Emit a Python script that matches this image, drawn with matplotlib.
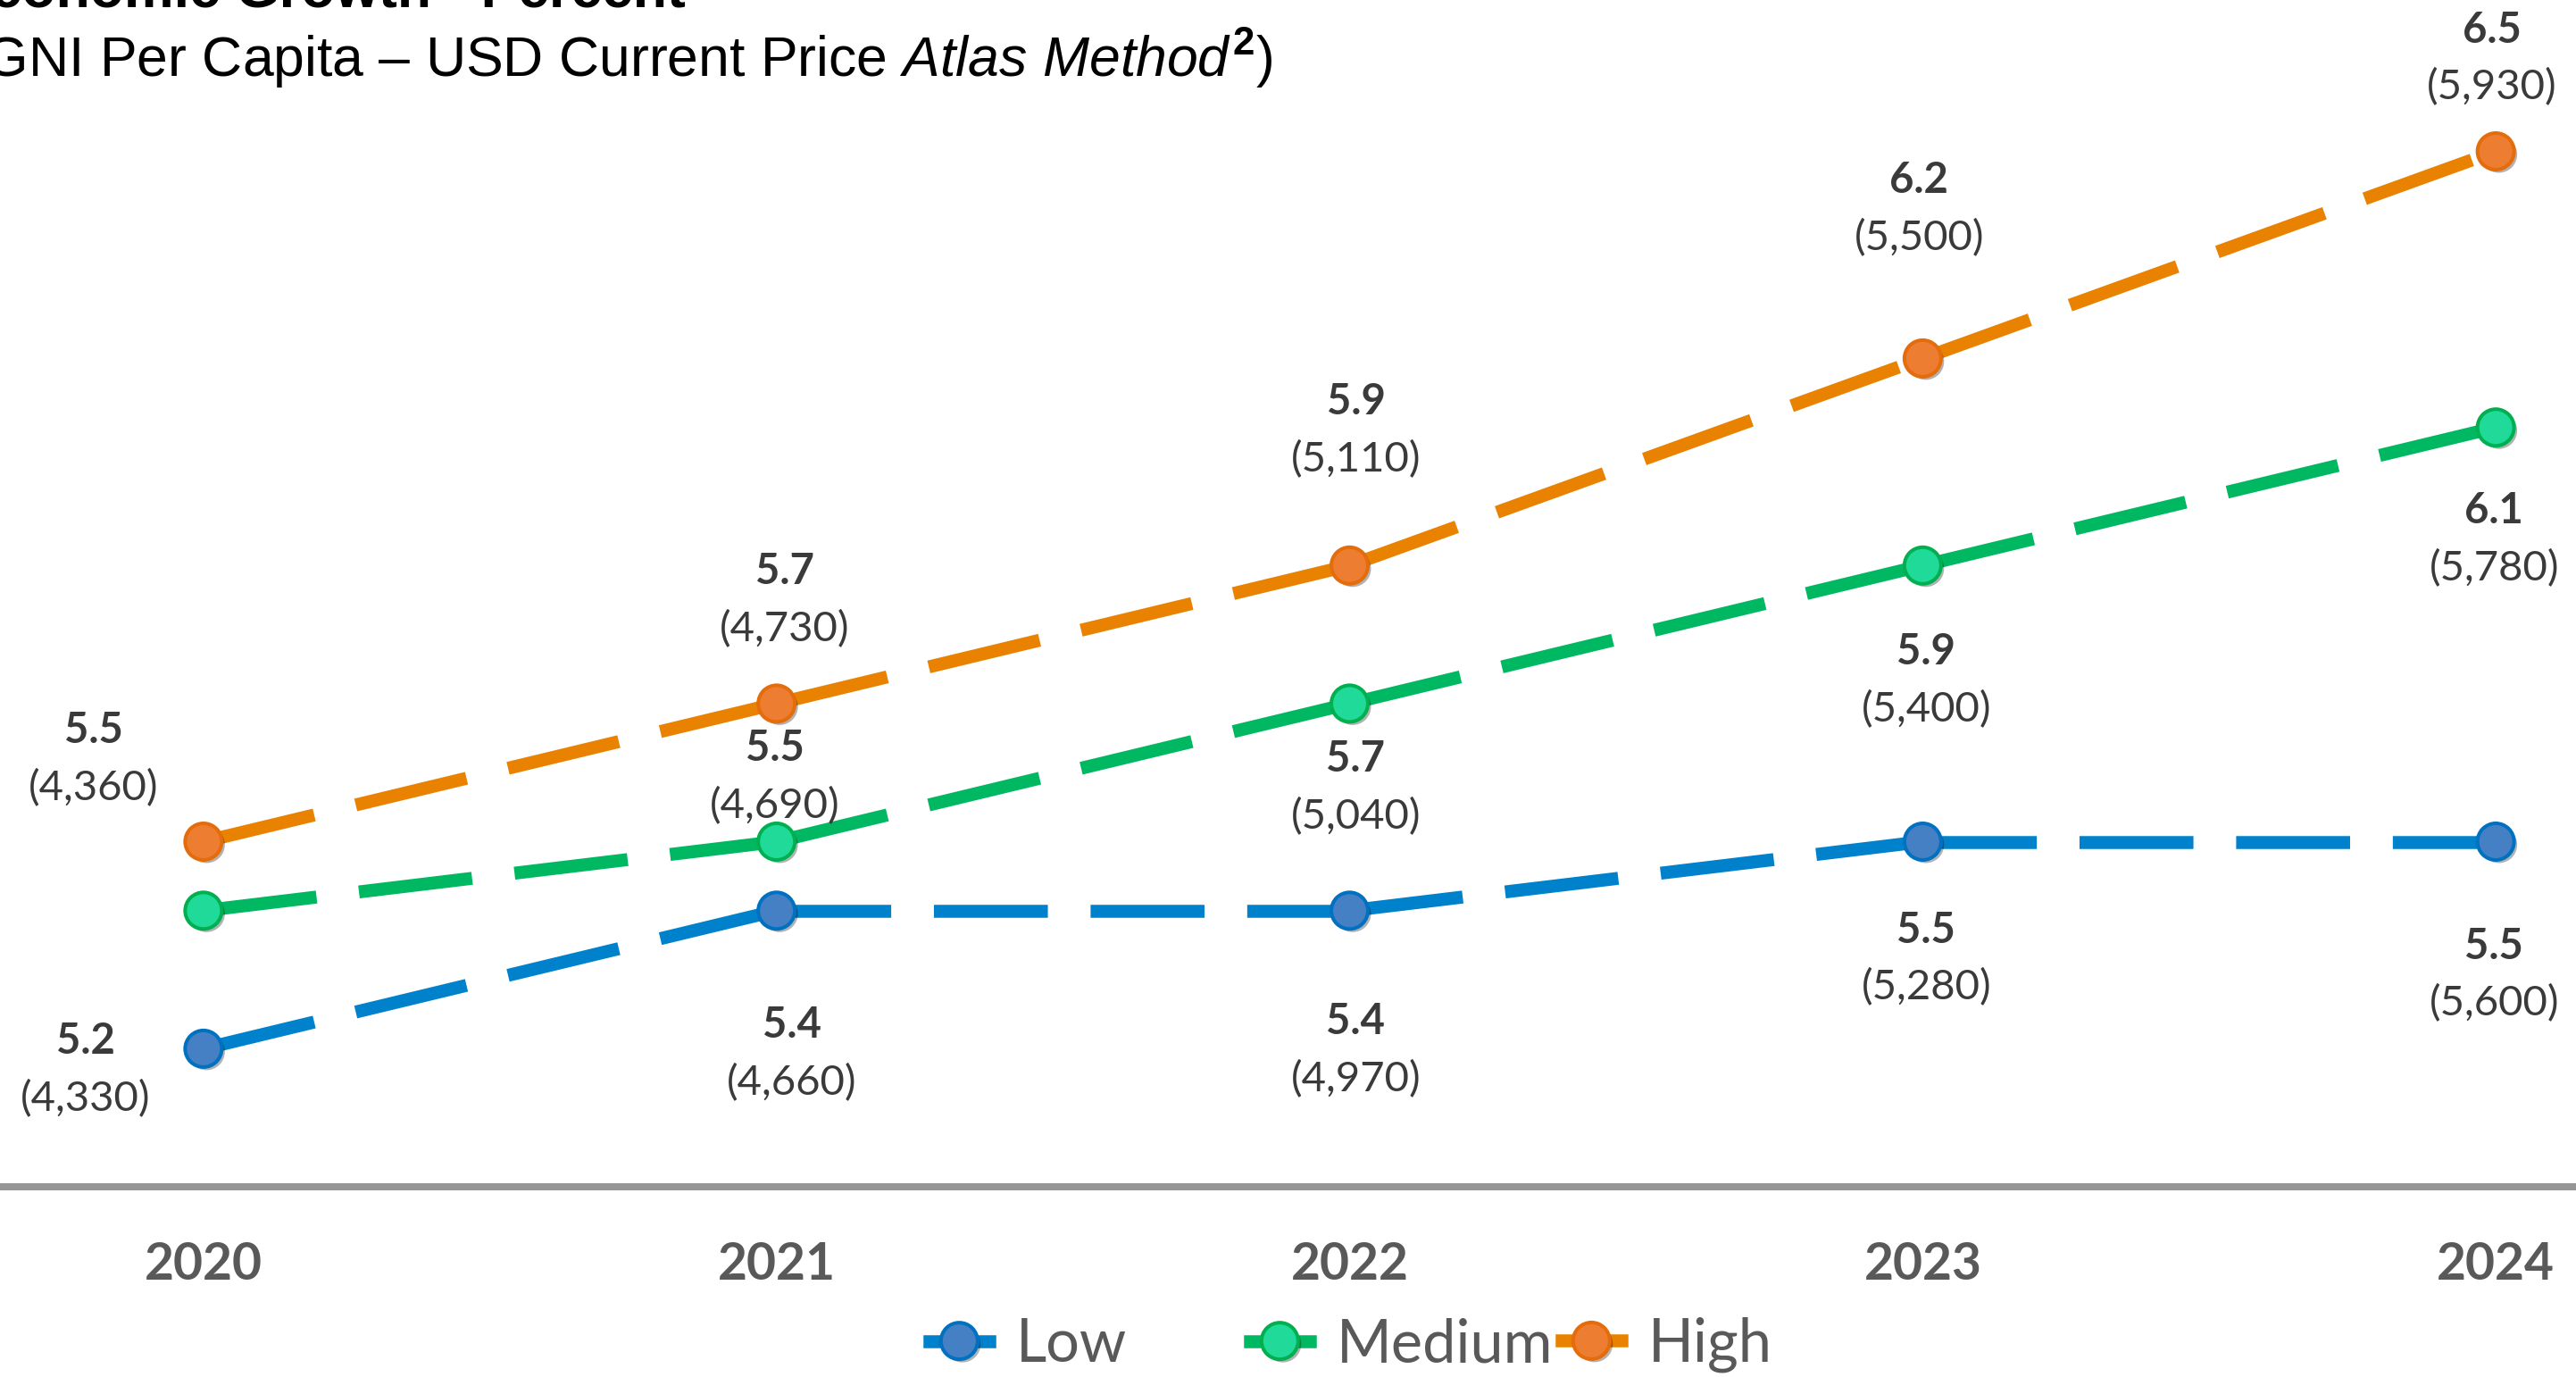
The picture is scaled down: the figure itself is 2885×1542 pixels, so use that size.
import matplotlib
matplotlib.use("Agg")
import matplotlib.pyplot as plt
import matplotlib.patheffects as pe
from matplotlib.lines import Line2D

# growth (percent) and GNI per capita (USD) by scenario
years = [2020, 2021, 2022, 2023, 2024]
low_growth = [5.2, 5.4, 5.4, 5.5, 5.5]
low_gni = [4330, 4660, 4970, 5280, 5600]
medium_growth = [5.4, 5.5, 5.7, 5.9, 6.1]
medium_gni = [None, 4690, 5040, 5400, 5780]
high_growth = [5.5, 5.7, 5.9, 6.2, 6.5]
high_gni = [4360, 4730, 5110, 5500, 5930]
series_names = ["Low", "Medium", "High"]

# label offsets from each point, in pixels (dx right, dy down to the bold baseline)
low_lbl = [(-132, 6), (17, 142), (7, 138), (4, 113), (-2, 131)]
medium_lbl = [None, (-2, -90), (7, 76), (4, 111), (-2, 107)]
high_lbl = [(-123, -110), (9, -134), (7, -169), (-4, -185), (-4, -122)]

DPI = 100
W, H = 2885, 1542


def px(v):
    return v * 72.0 / DPI


plt.rcParams['mathtext.fontset'] = 'custom'
plt.rcParams['mathtext.rm'] = 'Liberation Sans'
plt.rcParams['mathtext.it'] = 'Liberation Sans:italic'
plt.rcParams['mathtext.bf'] = 'Liberation Sans:bold'

fig = plt.figure(figsize=(W / DPI, H / DPI), dpi=DPI)
axis_y = 1329
ax = fig.add_axes([0, (H - axis_y) / H, 1, 1546 / H])
ax.set_xlim(years[0] - 0.355, years[-1] + 0.14)
ax.set_ylim(5.0, 7.0)

lw = px(14.5)
styles = {
    "Low": dict(line="#0081CC", face="#4680C4", edge="#0070C0"),
    "Medium": dict(line="#00B862", face="#1FDA98", edge="#00B050"),
    "High": dict(line="#E98200", face="#ED7D31", edge="#E46C0A"),
}
shadow = [pe.SimplePatchShadow(offset=(2.5, -2.5), shadow_rgbFace="#000000", alpha=0.3), pe.Normal()]
marker_kw = dict(marker="o", ms=px(41), mew=px(4))

data = [
    ("Low", low_growth, low_gni, low_lbl),
    ("Medium", medium_growth, medium_gni, medium_lbl),
    ("High", high_growth, high_gni, high_lbl),
]

# dashed lines, the dash pattern restarts at every point
for name, g, gni, lbl in data:
    st = styles[name]
    for i in range(len(years) - 1):
        ax.plot(years[i:i + 2], g[i:i + 2], color=st["line"], lw=lw,
                dashes=(8.8, 3.3), solid_capstyle="butt", zorder=2)

for name, g, gni, lbl in data:
    st = styles[name]
    ax.plot(years, g, ls="none", mfc=st["face"], mec=st["edge"], zorder=3,
            path_effects=shadow, **marker_kw)
    for x, y, v, off in zip(years, g, gni, lbl):
        if v is None:
            continue
        dx, dy = off
        ax.annotate(f"{y:.1f}", (x, y), xytext=(px(dx), -px(dy)), textcoords="offset points",
                    ha="center", va="baseline", fontsize=34, fontweight="bold",
                    family="Lato", color="#3A3A3A", zorder=4)
        ax.annotate(f"({v:,})", (x, y), xytext=(px(dx), -px(dy + 64)), textcoords="offset points",
                    ha="center", va="baseline", fontsize=34, family="Lato",
                    color="#3A3A3A", zorder=4)

for s in ["top", "left", "right"]:
    ax.spines[s].set_visible(False)
ax.spines["bottom"].set_color("#959595")
ax.spines["bottom"].set_linewidth(px(8))
ax.set_yticks([])
ax.set_xticks(years)
ax.set_xticklabels([str(y) for y in years], fontsize=41, fontweight="bold",
                   family="Lato", color="#595959")
ax.tick_params(axis="x", length=0, pad=44)
ax.patch.set_alpha(0)

# titles, partly running off the top-left edge
fig.text(768 / W, 1 - 7 / H, "Economic Growth - Percent", ha="right", va="baseline",
         fontsize=45, fontweight="bold", family="Liberation Sans", color="black")
fig.text(-38 / W, 1 - 86 / H,
         "(GNI Per Capita \u2013 USD Current Price $\\mathit{Atlas\\ Method}^{\\mathbf{2}}$)",
         ha="left", va="baseline", fontsize=45, family="Liberation Sans", color="black")

# legend entries sit at fixed slots
slots = [1041, 1400, 1749]
for name, x0 in zip(series_names, slots):
    st = styles[name]
    h = Line2D([], [], color=st["line"], lw=lw, mfc=st["face"], mec=st["edge"],
               path_effects=shadow, **marker_kw)
    leg = fig.legend([h], [name], loc="center left", bbox_to_anchor=(x0 / W, 1 - 1506 / H),
                     frameon=False, borderpad=0, borderaxespad=0, handlelength=1.0,
                     handletextpad=0.45, prop=dict(family="Lato", size=48))
    for t in leg.get_texts():
        t.set_color("#595959")

fig.savefig("out.png", dpi=DPI)
